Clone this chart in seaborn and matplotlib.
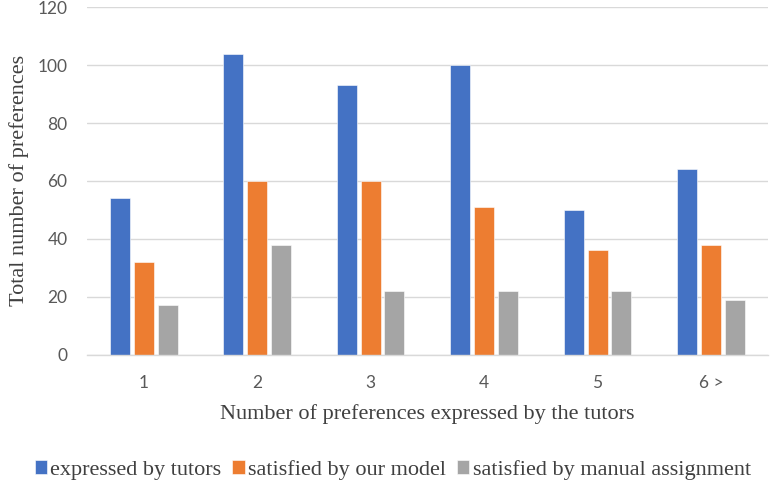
import pandas as pd
import seaborn as sns
import matplotlib.pyplot as plt

# values
categories = ['1', '2', '3', '4', '5', '6 >']
expressed = [54, 104, 93, 100, 50, 64]
satisfied_model = [32, 60, 60, 51, 36, 38]
satisfied_manual = [17, 38, 22, 22, 22, 19]

series_names = ['expressed by tutors', 'satisfied by our model', 'satisfied by manual assignment']
colors = ['#4472C4', '#ED7D31', '#A5A5A5']

df = pd.DataFrame({
    'group': categories,
    series_names[0]: expressed,
    series_names[1]: satisfied_model,
    series_names[2]: satisfied_manual,
})
df_long = df.melt(id_vars='group', var_name='series', value_name='count')

sns.set_theme(style='white')
serif = ['Liberation Serif', 'DejaVu Serif']
sans = ['Lato', 'DejaVu Sans']

fig = plt.figure(figsize=(7.7, 4.9), dpi=100)
ax = fig.add_axes([0.113, 0.2765, 0.884, 0.7085])

sns.barplot(data=df_long, x='group', y='count', hue='series', hue_order=series_names,
            palette=colors, saturation=1, width=0.63, gap=0.16, ax=ax, legend=True,
            edgecolor='white', linewidth=0.4)

ax.set_ylim(0, 120)
ax.set_yticks(range(0, 121, 20))
ax.yaxis.grid(True, color='#d9d9d9', linewidth=1)
ax.set_axisbelow(True)
for s in ['top', 'right', 'left']:
    ax.spines[s].set_visible(False)
ax.spines['bottom'].set_color('#d9d9d9')
ax.spines['bottom'].set_linewidth(1)
ax.tick_params(axis='both', length=0, colors='#595959', labelsize=12.5)
ax.tick_params(axis='y', pad=14)
ax.tick_params(axis='x', pad=15)
for lab in ax.get_xticklabels() + ax.get_yticklabels():
    lab.set_family(sans)

ax.set_xlabel('Number of preferences expressed by the tutors', family=serif,
              fontsize=16, color='#404040', labelpad=9)
ax.set_ylabel('Total number of preferences', family=serif,
              fontsize=16, color='#404040', labelpad=6)

handles, labels = ax.get_legend_handles_labels()
ax.get_legend().remove()
leg = fig.legend(handles, labels, loc='center', bbox_to_anchor=(0.51, 0.041), ncol=3,
                 frameon=False, handlelength=0.55, handleheight=0.55, handletextpad=0.15,
                 columnspacing=0.5, prop={'family': serif, 'size': 16})
for t in leg.get_texts():
    t.set_color('#404040')

fig.savefig('out.png', dpi=100)
